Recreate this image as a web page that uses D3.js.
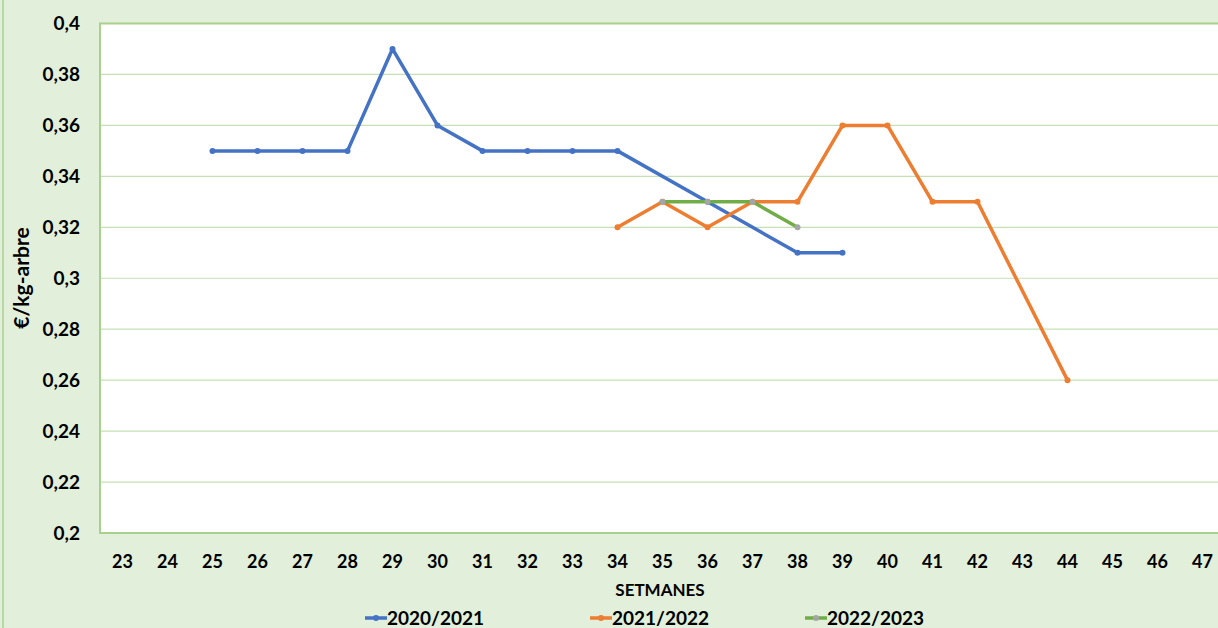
<!DOCTYPE html>
<html>
<head>
<meta charset="utf-8">
<script src="https://cdn.jsdelivr.net/npm/d3@7"></script>
<style>
  body { margin: 0; background: #e2efda; }
  svg { display: block; font-family: Lato, "Open Sans", sans-serif; font-weight: bold; }
</style>
</head>
<body>
<div id="chart"></div>
<script>
var weeks = [23,24,25,26,27,28,29,30,31,32,33,34,35,36,37,38,39,40,41,42,43,44,45,46,47];
var yTicks = [0.2,0.22,0.24,0.26,0.28,0.3,0.32,0.34,0.36,0.38,0.4];

// null = no value that week (line is drawn across the gap)
var s2020 = [
  [25,0.35],[26,0.35],[27,0.35],[28,0.35],[29,0.39],[30,0.36],[31,0.35],[32,0.35],
  [33,0.35],[34,0.35],[35,null],[36,0.33],[37,null],[38,0.31],[39,0.31]
];
var s2021 = [
  [34,0.32],[35,0.33],[36,0.32],[37,0.33],[38,0.33],[39,0.36],[40,0.36],[41,0.33],
  [42,0.33],[43,null],[44,0.26]
];
var s2022 = [[35,0.33],[36,0.33],[37,0.33],[38,0.32]];

var series = [
  {name: "2020/2021", data: s2020, color: "#4472c4", marker: "#4472c4"},
  {name: "2021/2022", data: s2021, color: "#ed7d31", marker: "#ed7d31"},
  {name: "2022/2023", data: s2022, color: "#70ad47", marker: "#a5a5a5"}
];

var W = 1218, H = 628;
var plotL = 100, plotT = 23.5, plotR = 1225, plotB = 533;

var svg = d3.select("#chart").append("svg")
  .attr("width", W).attr("height", H);

// outer frame
svg.append("rect")
  .attr("x", 3).attr("y", -2).attr("width", W + 10).attr("height", H + 10)
  .attr("fill", "#e2efda").attr("stroke", "#a9d18e").attr("stroke-width", 1.5);

var x = d3.scaleBand().domain(weeks).range([plotL, plotR]);
var y = d3.scaleLinear().domain([0.2, 0.4]).range([plotB, plotT]);
var cx = function(w) { return x(w) + x.bandwidth() / 2; };

svg.append("rect")
  .attr("x", plotL).attr("y", plotT).attr("width", plotR - plotL).attr("height", plotB - plotT)
  .attr("fill", "#fff");

// gridlines
svg.append("g").selectAll("line")
  .data(yTicks)
  .enter().append("line")
  .attr("x1", plotL).attr("x2", plotR)
  .attr("y1", function(d) { return y(d); })
  .attr("y2", function(d) { return y(d); })
  .attr("stroke", "#c5e0b4").attr("stroke-width", 1.2);

// plot border
svg.append("rect")
  .attr("x", plotL).attr("y", plotT).attr("width", plotR - plotL).attr("height", plotB - plotT)
  .attr("fill", "none").attr("stroke", "#a9d18e").attr("stroke-width", 2);

var fmt = function(d) { return String(+d.toFixed(2)).replace(".", ","); };

var yAxis = svg.append("g")
  .attr("transform", "translate(" + plotL + ",0)")
  .call(d3.axisLeft(y).tickValues(yTicks).tickFormat(fmt).tickSize(0).tickPadding(20));
yAxis.select(".domain").remove();
yAxis.selectAll("text").attr("font-size", 19).attr("font-family", "Lato").attr("font-weight", "bold").attr("fill", "#000");

var xAxis = svg.append("g")
  .attr("transform", "translate(0," + plotB + ")")
  .call(d3.axisBottom(x).tickSize(0).tickPadding(22));
xAxis.select(".domain").remove();
xAxis.selectAll("text").attr("font-size", 18).attr("font-family", "Lato").attr("font-weight", "bold").attr("fill", "#000");

// axis titles
svg.append("text")
  .attr("x", 660).attr("y", 596)
  .attr("text-anchor", "middle").attr("font-size", 17).attr("fill", "#000")
  .text("SETMANES");

svg.append("text")
  .attr("transform", "translate(29,278) rotate(-90)")
  .attr("text-anchor", "middle").attr("font-size", 21).attr("fill", "#000")
  .text("€/kg-arbre");

// lines
var line = d3.line()
  .x(function(d) { return cx(d[0]); })
  .y(function(d) { return y(d[1]); });

series.forEach(function(s) {
  var pts = s.data.filter(function(d) { return d[1] !== null; });
  svg.append("path")
    .datum(pts)
    .attr("d", line)
    .attr("fill", "none")
    .attr("stroke", s.color)
    .attr("stroke-width", 3.5)
    .attr("stroke-linejoin", "round");
  svg.append("g").selectAll("circle")
    .data(pts)
    .enter().append("circle")
    .attr("cx", function(d) { return cx(d[0]); })
    .attr("cy", function(d) { return y(d[1]); })
    .attr("r", 3)
    .attr("fill", s.marker);
});

// legend
var legendX = [365, 590, 805];
var legend = svg.append("g").selectAll("g")
  .data(series)
  .enter().append("g")
  .attr("transform", function(d, i) { return "translate(" + legendX[i] + ",618)"; });
legend.append("line")
  .attr("x1", 0).attr("x2", 22).attr("y1", 0).attr("y2", 0)
  .attr("stroke", function(d) { return d.color; }).attr("stroke-width", 3.5);
legend.append("circle")
  .attr("cx", 11).attr("cy", 0).attr("r", 3)
  .attr("fill", function(d) { return d.marker; });
legend.append("text")
  .attr("x", 22).attr("y", 7)
  .attr("font-size", 19).attr("fill", "#000")
  .text(function(d) { return d.name; });
</script>
</body>
</html>
